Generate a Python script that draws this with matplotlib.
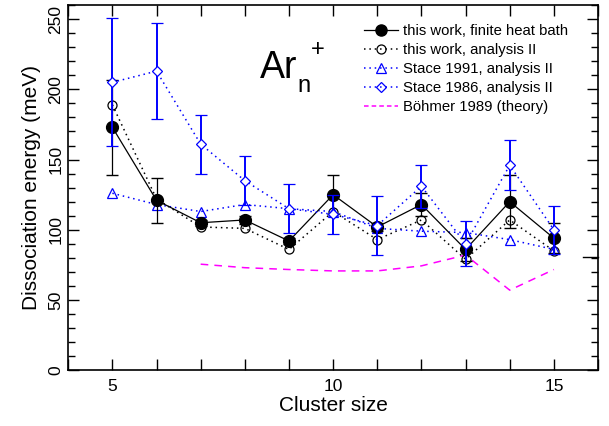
import numpy as np
import matplotlib
matplotlib.use("Agg")
import matplotlib.pyplot as plt
from matplotlib.ticker import MultipleLocator
from matplotlib.lines import Line2D

plt.rcParams['font.family'] = ['Liberation Sans', 'DejaVu Sans']

#Cluster sizes
n = [5, 6, 7, 8, 9, 10, 11, 12, 13, 14, 15]

#this work, finite heat bath (with error bars)
heat_bath = [173, 121, 105, 107, 92, 125, 102, 118, 86, 120, 94]
heat_bath_err = [34, 16, 2, 3, 2, 14, 3, 8, 8, 19, 10.5]

#this work, analysis II
analysis2 = [189, 122, 102, 101, 86, 113, 93, 107, 79, 107, 85]

#Stace 1991, analysis II
stace91 = [126, 118, 113, 118, 115, 113, 101, 99, 98, 93, 86]

#Stace 1986, analysis II (with error bars)
stace86 = [205, 213, 161, 135, 115, 111, 103, 131, 90, 146, 100]
stace86_err = [45.6, 34, 21, 17.5, 17.6, 14, 21, 15.4, 16, 17.6, 17]

#Boehmer 1989 (theory), n = 7..15
n_theory = [7, 8, 9, 10, 11, 12, 13, 14, 15]
boehmer = [75.5, 73, 71.7, 70.7, 70.7, 74.3, 82, 57, 71.7]

#stray mark at the right axis
right_mark = 80.5

labels = ['this work, finite heat bath', 'this work, analysis II',
          'Stace 1991, analysis II', 'Stace 1986, analysis II',
          'Böhmer 1989 (theory)']

blue = '#0000ff'
dot = (0, (1, 2.5))

fig = plt.figure(figsize=(6.09, 4.26), dpi=100)
ax = fig.add_axes([0.112, 0.131, 0.870, 0.857])

ax.errorbar(n, heat_bath, yerr=heat_bath_err, color='black', lw=0.9, elinewidth=0.9,
            capsize=4, marker='o', ms=8.5, mfc='black', mec='black', zorder=5)
ax.plot(n, analysis2, color='black', ls=dot, lw=1.1, marker='o', ms=6.5,
        mfc='none', mec='black', mew=0.9, zorder=4)
ax.plot(n, stace91, color=blue, ls=dot, lw=1.1, marker='^', ms=6.5,
        mfc='none', mec=blue, mew=0.9, zorder=4)
ax.errorbar(n, stace86, yerr=stace86_err, color=blue, ls=dot, lw=1.1,
            elinewidth=1.4, capsize=4, marker='D', ms=5.5, mfc='white', mec=blue,
            mew=0.9, zorder=6)
ax.plot(n_theory, boehmer, color='#ff00ff', ls=(0, (5, 4)), lw=1.1, zorder=3)

ax.plot([15.65, 16], [right_mark, right_mark], color='black', lw=1, clip_on=False)

ax.set_xlim(4, 16)
ax.set_ylim(0, 260)
ax.xaxis.set_major_locator(MultipleLocator(5))
ax.xaxis.set_minor_locator(MultipleLocator(1))
ax.yaxis.set_major_locator(MultipleLocator(50))
ax.yaxis.set_minor_locator(MultipleLocator(10))
ax.tick_params(which='both', direction='in', top=True, right=True, width=1,
               labelsize=12.5)
ax.tick_params(which='major', length=8)
ax.tick_params(which='minor', length=5)
ax.tick_params(axis='x', which='minor', length=8)
ax.tick_params(axis='x', pad=6)
for lbl in ax.get_yticklabels():
    lbl.set_rotation(90)
    lbl.set_va('center')
for s in ax.spines.values():
    s.set_linewidth(1.2)

ax.set_xlabel('Cluster size', fontsize=15, labelpad=2)
ax.set_ylabel('Dissociation energy (meV)', fontsize=15, labelpad=5)

#Ar_n^+ label
ax.text(8.34, 208, 'Ar', fontsize=27, ha='left', va='baseline')
ax.text(9.2, 198, 'n', fontsize=17, ha='left', va='baseline')
ax.text(9.65, 228, '+', fontsize=17, ha='center', va='center')

#legend proxies without error bars
handles = [
    Line2D([], [], color='black', lw=0.9, marker='o', ms=8, mfc='black'),
    Line2D([], [], color='black', ls=dot, lw=1.1, marker='o', ms=6.5, mfc='none', mew=0.9),
    Line2D([], [], color=blue, ls=dot, lw=1.1, marker='^', ms=6.5, mfc='none', mew=0.9),
    Line2D([], [], color=blue, ls=dot, lw=1.1, marker='D', ms=5.5, mfc='none', mew=0.9),
    Line2D([], [], color='#ff00ff', ls=(0, (3, 2)), lw=1.1),
]
ax.legend(handles, labels, loc='upper left', bbox_to_anchor=(0.558, 0.948),
          frameon=False, fontsize=10.7, handlelength=2.3, handletextpad=0.35,
          labelspacing=0.33, borderaxespad=0, borderpad=0)

fig.savefig('out.png', dpi=100)
